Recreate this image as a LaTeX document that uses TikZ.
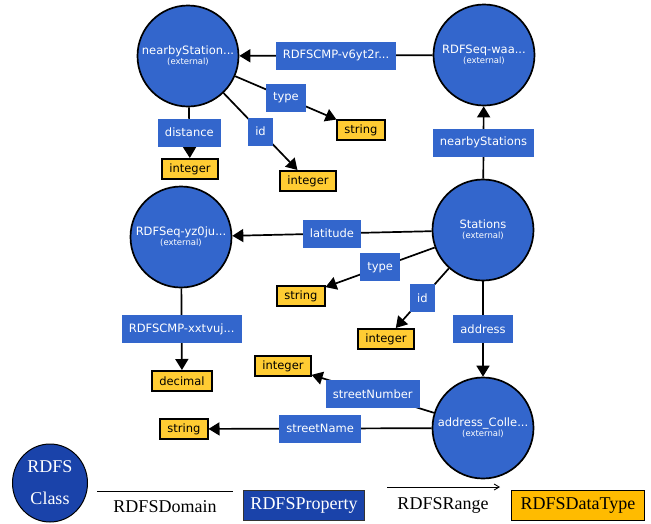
\documentclass[tikz,border=0pt]{standalone}
\usepackage{fontspec}
\setmainfont{DejaVu Sans}
\newfontfamily\legendfont{Liberation Serif}
\usepackage{tikz}
\usetikzlibrary{arrows.meta,shapes.geometric}

\definecolor{rdfblue}{RGB}{51,102,204}
\definecolor{rdfgold}{RGB}{255,204,51}
\definecolor{legblue}{RGB}{26,67,170}
\definecolor{legorange}{RGB}{255,187,0}

\newcommand{\extname}[1]{#1\\[-3pt]{\fontsize{8.5}{9}\selectfont(external)}}

\begin{document}
\begin{tikzpicture}[x=1pt,y=-1pt,>={Triangle[length=11pt,width=13pt]},line width=1.7pt,
        rdfclass/.style={circle,draw=black,fill=rdfblue,text=white,minimum size=101pt,inner sep=0pt,
                         align=center,font=\fontsize{11.5}{13}\selectfont},
        rdfprop/.style={rectangle,fill=rdfblue,text=white,minimum height=28pt,inner xsep=7pt,
                        font=\fontsize{11.5}{13}\selectfont},
        rdftype/.style={rectangle,draw=black,line width=2pt,fill=rdfgold,minimum height=20pt,
                        inner xsep=7pt,font=\fontsize{11.5}{13}\selectfont},
        legtext/.style={font=\legendfont\fontsize{18}{32}\selectfont,align=center}]
        \useasboundingbox (0,0) rectangle (651,523);

        \node[rdfclass] (nearby) at (188,56) {\extname{nearbyStation...}};
        \node[rdfclass] (seqwaa) at (484,55) {\extname{RDFSeq-waa...}};
        \node[rdfclass] (stations) at (483,230) {\extname{Stations}};
        \node[rdfclass] (seqyz) at (181,237) {\extname{RDFSeq-yz0ju...}};
        \node[rdfclass] (address) at (483,428) {\extname{address\_Colle...}};

        \node[rdftype] (nbtype) at (361,130) {string};
        \node[rdftype] (nbid) at (308,181) {integer};
        \node[rdftype] (nbdist) at (190,169) {integer};
        \node[rdftype] (sttype) at (301,296) {string};
        \node[rdftype] (stid) at (386,339) {integer};
        \node[rdftype] (seqdec) at (182,381) {decimal};
        \node[rdftype] (adnum) at (283,366) {integer};
        \node[rdftype] (adname) at (184,429) {string};

        \path[->] (seqwaa) edge node[rdfprop] {RDFSCMP-v6yt2r...} (nearby)
                  (nearby) edge node[rdfprop] {type} (nbtype)
                           edge node[rdfprop] {id} (nbid)
                           edge node[rdfprop] {distance} (nbdist)
                  (stations) edge node[rdfprop] {nearbyStations} (seqwaa)
                             edge node[rdfprop] {latitude} (seqyz)
                             edge node[rdfprop] {type} (sttype)
                             edge node[rdfprop] {id} (stid)
                             edge node[rdfprop] {address} (address)
                  (seqyz) edge node[rdfprop] {RDFSCMP-xxtvuj...} (seqdec)
                  (address) edge node[rdfprop] {streetNumber} (adnum)
                            edge node[rdfprop] {streetName} (adname);

        % legend
        \node[ellipse,draw=black,line width=1pt,fill=legblue,text=white,minimum width=75pt,
              minimum height=78pt,inner sep=0pt,legtext] (legclass) at (50,483) {RDFS\\Class};
        \coordinate (domstart) at (97,491);
        \coordinate (domend) at (233,491);
        \draw[-,line width=1pt] (domstart) -- (domend);
        \node[legtext] (domlabel) at (165,507) {RDFSDomain};
        \node[rectangle,draw=black!80,line width=1pt,fill=legblue,text=white,minimum width=121pt,
              minimum height=30pt,legtext] (legprop) at (304,505) {RDFSProperty};
        \coordinate (rngstart) at (387,487);
        \coordinate (rngend) at (500,487);
        \draw[-{Straight Barb[length=5pt,width=6pt]},line width=0.9pt] (rngstart) -- (rngend);
        \node[legtext] (rnglabel) at (443,505) {RDFSRange};
        \node[rectangle,draw=black,line width=1pt,fill=legorange,minimum width=133pt,
              minimum height=30pt,legtext] (legtype) at (578,505) {RDFSDataType};
    \end{tikzpicture}
\end{document}
